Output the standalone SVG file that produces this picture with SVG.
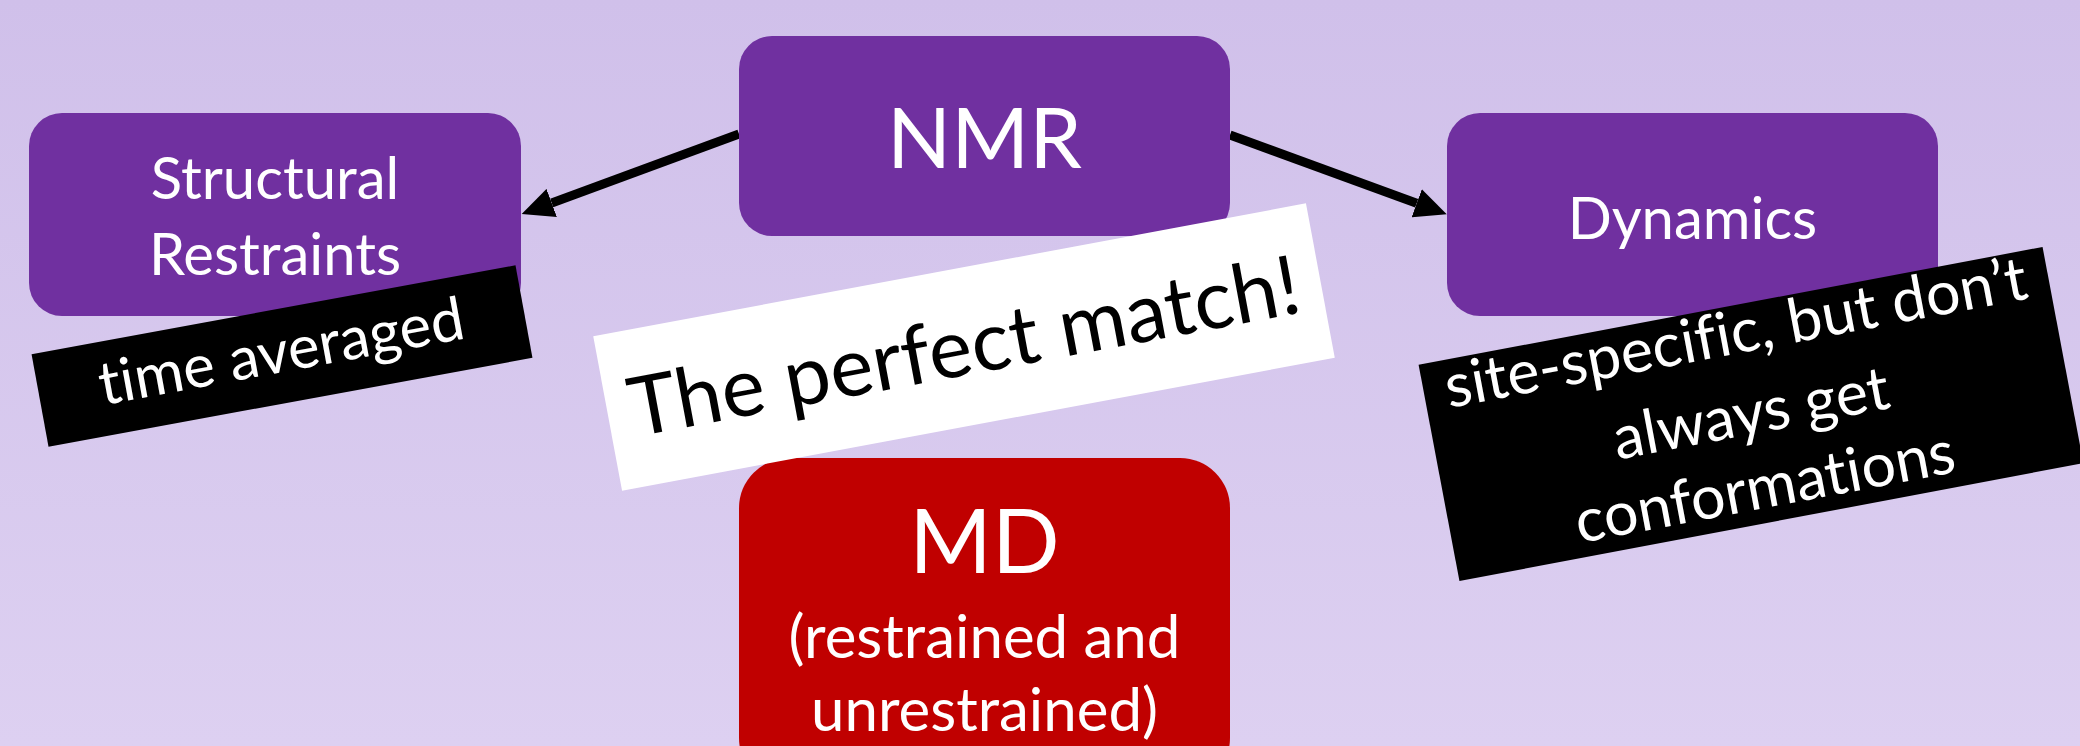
<svg xmlns="http://www.w3.org/2000/svg" width="2080" height="746" viewBox="0 0 2080 746">
<defs>
<linearGradient id="bg" x1="0" y1="0" x2="0" y2="1">
<stop offset="0" stop-color="#D0C0EA"/>
<stop offset="1" stop-color="#DDD0F1"/>
</linearGradient>
<marker id="ah" markerUnits="userSpaceOnUse" markerWidth="32" markerHeight="30" viewBox="0 0 32 30" refX="0" refY="15" orient="auto">
<path d="M0,0 L32,15 L0,30 Z" fill="#000"/>
</marker>
<style>
.purple{fill:#7030A0}
.red{fill:#C00000}
.t{font-family:Lato,"Open Sans","Liberation Sans",sans-serif;text-anchor:middle;font-variant-ligatures:none;font-feature-settings:"liga" 0}
.w{fill:#fff}
.k{fill:#000}
.conn{stroke:#000;stroke-width:9;fill:none;marker-end:url(#ah)}
</style>
</defs>
<rect x="0" y="0" width="2080" height="746" fill="url(#bg)"/>
<g id="connectors">
<line class="conn" x1="739" y1="134" x2="551.7" y2="203"/>
<line class="conn" x1="1230" y1="135" x2="1416.7" y2="203.3"/>
</g>
<g id="nmr">
<rect class="purple" x="739" y="36" width="491" height="200" rx="33"/>
<text class="t w" x="984.5" y="168" font-size="84">NMR</text>
</g>
<g id="structural">
<rect class="purple" x="29" y="113" width="492" height="203" rx="33"/>
<text class="t w" x="275" y="199" font-size="58">Structural</text>
<text class="t w" x="275" y="275" font-size="58">Restraints</text>
</g>
<g id="dynamics">
<rect class="purple" x="1447" y="113" width="491" height="203" rx="33"/>
<text class="t w" x="1692.5" y="239" font-size="58">Dynamics</text>
</g>
<g id="md">
<rect class="red" x="739" y="458" width="491" height="330" rx="50"/>
<text class="t w" x="984.5" y="573" font-size="89">MD</text>
<text class="t w" x="984.5" y="658" font-size="60">(restrained and</text>
<text class="t w" x="984.5" y="731" font-size="60">unrestrained)</text>
</g>
<g id="note-time" transform="translate(282,356) rotate(-10.4)">
<rect class="k" x="-246" y="-47" width="492" height="94"/>
<text class="t w" x="0" y="16" font-size="60">time averaged</text>
</g>
<g id="note-match" transform="translate(964,347) rotate(-10.57)">
<rect class="w" x="-362.5" y="-78.5" width="725" height="157"/>
<text class="t k" x="0" y="28" font-size="82">The perfect match!</text>
</g>
<g id="note-dynamics" transform="translate(1751,414) rotate(-10.7)">
<rect class="k" x="-317.5" y="-110" width="635" height="220"/>
<text class="t w" x="0" y="-62" font-size="61">site-specific, but don’t</text>
<text class="t w" x="0" y="20" font-size="61">always get</text>
<text class="t w" x="0" y="95" font-size="61">conformations</text>
</g>
</svg>
